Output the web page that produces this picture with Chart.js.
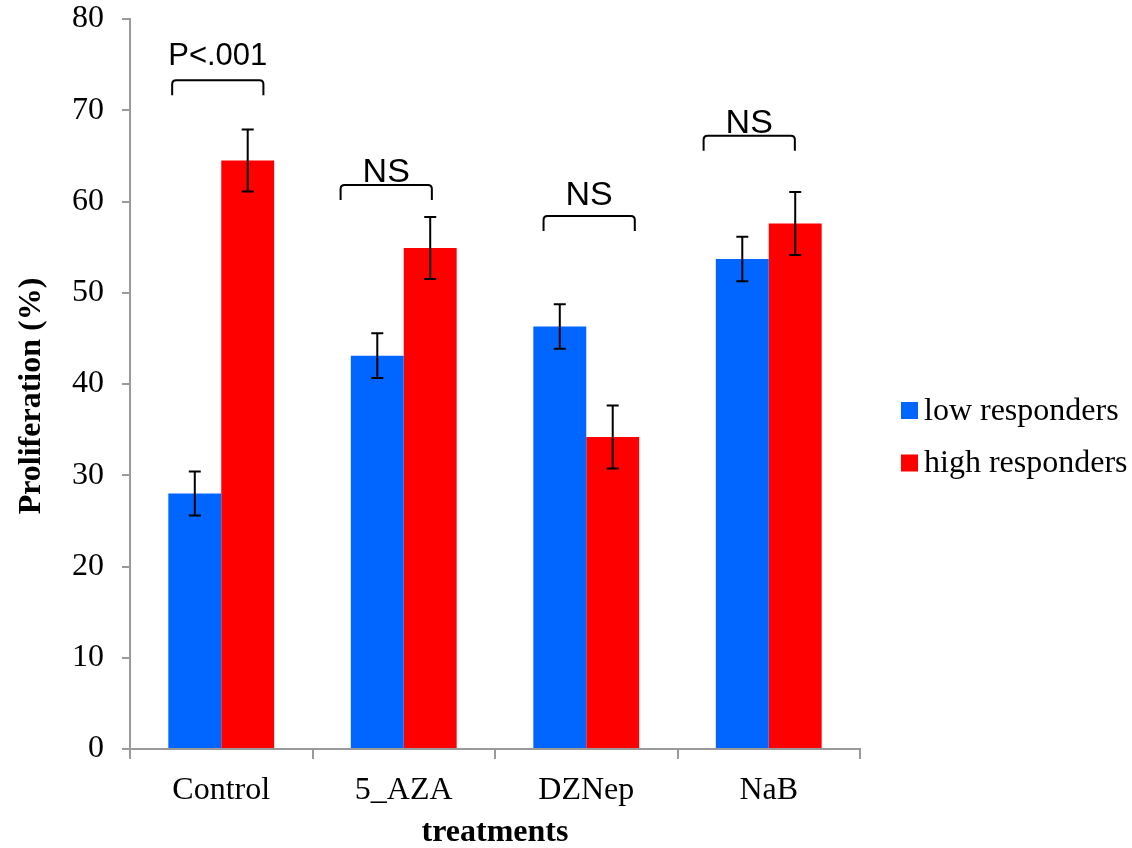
<!DOCTYPE html>
<html>
<head>
<meta charset="utf-8">
<script src="https://cdn.jsdelivr.net/npm/chart.js@4/dist/chart.umd.min.js"></script>
<style>
  html, body { margin: 0; padding: 0; background: #ffffff; }
  #wrap { width: 1132px; height: 848px; }
</style>
</head>
<body>
<div id="wrap"><canvas id="chart" width="1132" height="848"></canvas></div>
<script>
// Proliferation (%) by treatment, low vs high responders (mean ± error)
const treatments = ['Control', '5_AZA', 'DZNep', 'NaB'];
const seriesNames = ['low responders', 'high responders'];
const lowResponders = [28.0, 43.1, 46.3, 53.7];
const lowErrors = [2.4, 2.45, 2.45, 2.45];
const highResponders = [64.5, 54.9, 34.2, 57.6];
const highErrors = [3.4, 3.4, 3.45, 3.45];
const yMin = 0, yMax = 80, yStep = 10;

// Significance annotations above each treatment pair
const comparisonLabels = ['P<.001', 'NS', 'NS', 'NS'];
const bracketLevels = [73.3, 61.8, 58.4, 67.2];
const labelLevels = [75.0, 62.1, 59.6, 67.5];
const bracketShift = [-0.019, -0.096, 0.016, -0.107];

const BLUE = '#0066ff';
const RED = '#ff0000';
const AXIS = '#9a9a9a';
const SERIF = '"Liberation Serif", "Times New Roman", serif';
const SANS = '"Liberation Sans", Arial, sans-serif';

// Error bars: vertical whisker with caps, centred on each bar
const errorBars = {
  id: 'errorBars',
  afterDatasetsDraw(chart) {
    const ctx = chart.ctx;
    const y = chart.scales.y;
    const errs = [lowErrors, highErrors];
    ctx.save();
    ctx.strokeStyle = '#000';
    ctx.lineWidth = 2;
    chart.data.datasets.forEach((ds, d) => {
      const meta = chart.getDatasetMeta(d);
      meta.data.forEach((bar, i) => {
        const v = ds.data[i], e = errs[d][i];
        const top = y.getPixelForValue(v + e);
        const bot = y.getPixelForValue(v - e);
        const x = bar.x;
        ctx.beginPath();
        ctx.moveTo(x, top); ctx.lineTo(x, bot);
        ctx.moveTo(x - 6, top); ctx.lineTo(x + 6, top);
        ctx.moveTo(x - 6, bot); ctx.lineTo(x + 6, bot);
        ctx.stroke();
      });
    });
    ctx.restore();
  }
};

// Brackets with comparison labels
const brackets = {
  id: 'brackets',
  afterDatasetsDraw(chart) {
    const ctx = chart.ctx;
    const xs = chart.scales.x, ys = chart.scales.y;
    const catW = xs.getPixelForValue(1) - xs.getPixelForValue(0);
    ctx.save();
    ctx.strokeStyle = '#000';
    ctx.fillStyle = '#000';
    ctx.lineWidth = 2;
    treatments.forEach((t, i) => {
      const cx = xs.getPixelForValue(i) + bracketShift[i] * catW;
      const half = catW * 0.25;
      const top = ys.getPixelForValue(bracketLevels[i]);
      const leg = 15, r = 4;
      ctx.beginPath();
      ctx.moveTo(cx - half, top + leg);
      ctx.lineTo(cx - half, top + r);
      ctx.quadraticCurveTo(cx - half, top, cx - half + r, top);
      ctx.lineTo(cx + half - r, top);
      ctx.quadraticCurveTo(cx + half, top, cx + half, top + r);
      ctx.lineTo(cx + half, top + leg);
      ctx.stroke();
      const size = comparisonLabels[i] === 'NS' ? 34 : 31;
      ctx.font = size + 'px ' + SANS;
      ctx.textAlign = 'center';
      ctx.textBaseline = 'alphabetic';
      ctx.fillText(comparisonLabels[i], cx, ys.getPixelForValue(labelLevels[i]));
    });
    ctx.restore();
  }
};

// Legend to the right of the plot
const sideLegend = {
  id: 'sideLegend',
  afterDraw(chart) {
    const ctx = chart.ctx;
    const area = chart.chartArea;
    const x0 = area.right + 41;
    const midY = chart.height / 2;
    const rows = [midY - 13.5, midY + 39];
    ctx.save();
    ctx.font = '32px ' + SERIF;
    ctx.textAlign = 'left';
    ctx.textBaseline = 'middle';
    chart.data.datasets.forEach((ds, d) => {
      const cy = rows[d];
      ctx.fillStyle = ds.backgroundColor;
      ctx.fillRect(x0, cy - 8.5, 17, 17);
      ctx.fillStyle = '#000';
      ctx.fillText(ds.label, x0 + 23, cy + 1);
    });
    ctx.restore();
  }
};

new Chart(document.getElementById('chart'), {
  type: 'bar',
  data: {
    labels: treatments,
    datasets: [
      { label: seriesNames[0], data: lowResponders, backgroundColor: BLUE, borderWidth: 0 },
      { label: seriesNames[1], data: highResponders, backgroundColor: RED, borderWidth: 0 }
    ]
  },
  options: {
    responsive: false,
    animation: false,
    devicePixelRatio: 1,
    layout: { padding: { top: 19, right: 272, bottom: 0, left: 0 } },
    plugins: {
      legend: { display: false },
      tooltip: { enabled: false }
    },
    datasets: {
      bar: { categoryPercentage: 0.58, barPercentage: 1.0 }
    },
    scales: {
      x: {
        offset: true,
        grid: { offset: true, drawOnChartArea: false, drawTicks: true, tickLength: 10, color: AXIS, lineWidth: 2 },
        border: { display: true, color: AXIS, width: 2 },
        ticks: { color: '#000', font: { family: SERIF, size: 32 }, padding: 12, maxRotation: 0, autoSkip: false },
        title: { display: true, text: 'treatments', color: '#000', font: { family: SERIF, size: 32, weight: 'bold' }, padding: { top: 0, bottom: -4 } },
        afterFit(scale) { scale.height = 99; scale.paddingLeft = 0; scale.paddingRight = 0; }
      },
      y: {
        min: yMin,
        max: yMax,
        grid: { drawOnChartArea: false, drawTicks: true, tickLength: 8, color: AXIS, lineWidth: 2 },
        border: { display: true, color: AXIS, width: 2 },
        ticks: { stepSize: yStep, color: '#000', font: { family: SERIF, size: 32 }, padding: 18 },
        title: { display: true, text: 'Proliferation (%)   ', color: '#000', font: { family: SERIF, size: 32, weight: 'bold' }, padding: { top: 13, bottom: 0 } },
        afterFit(scale) { scale.width = 130; scale.paddingTop = 0; scale.paddingBottom = 0; }
      }
    }
  },
  plugins: [errorBars, brackets, sideLegend]
});
</script>
</body>
</html>
